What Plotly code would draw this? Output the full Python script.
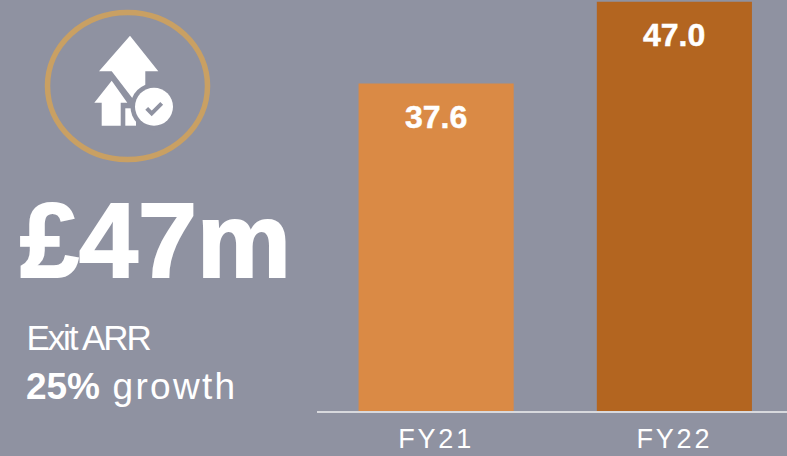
import plotly.graph_objects as go

categories = ["FY21", "FY22"]
values = [37.6, 47.0]
labels = ["37.6", "47.0"]
bar_colors = ["#DA8A45", "#B36520"]
headline = "£47m"
caption = "Exit ARR"
growth = "<b>25%</b> growth"

W, H = 787, 456
BG = "#8F92A1"
ML, MB = 317, 45
PW, PH = W - ML, H - MB
FONT = "Liberation Sans"


def px(x):
    return (x - ML) / PW


def py(y):
    return 1 - y / PH


def path(pts):
    return "M" + " L".join(f"{px(x):.5f},{py(y):.5f}" for x, y in pts) + " Z"


def circle(cx, cy, rx, ry=None, **kw):
    ry = ry if ry is not None else rx
    return dict(type="circle", xref="paper", yref="paper", x0=px(cx - rx), x1=px(cx + rx),
                y0=py(cy + ry), y1=py(cy - ry), **kw)


WHITE = dict(fillcolor="white", line=dict(width=0))
big_arrow = [(130, 35.7), (99, 71.3), (111.7, 71.3), (133, 99), (145.3, 99), (145.3, 71.3), (158.3, 71.3)]
small_arrow = [(111.7, 80.7), (94.3, 102.7), (101.7, 102.7), (101.7, 125.7), (120.7, 125.7), (120.7, 102.7), (127.3, 102.7)]
fragment = [(125.3, 108.3), (136, 108.3), (136, 125.7), (125.3, 125.7)]
check = [(146.7, 108.3), (151.7, 113.3), (161.7, 103.3)]

shapes = [
    circle(127.5, 86, 80, 73.5, line=dict(color="#C9A063", width=5.5), fillcolor="rgba(0,0,0,0)"),
    dict(type="path", path=path(big_arrow), xref="paper", yref="paper", **WHITE),
    dict(type="path", path=path(small_arrow), xref="paper", yref="paper", **WHITE),
    dict(type="path", path=path(fragment), xref="paper", yref="paper", **WHITE),
    circle(154, 106.7, 23.5, fillcolor=BG, line=dict(width=0)),
    circle(154, 106.7, 19, **WHITE),
    dict(type="path", path=path(check).removesuffix(" Z"), xref="paper", yref="paper",
         line=dict(color="#8F92A1", width=4), fillcolor="rgba(0,0,0,0)"),
]


def note(text, x, y, size, family=FONT, anchor="left", **kw):
    return dict(text=text, xref="paper", yref="paper", x=px(x), y=py(y), xanchor=anchor, yanchor="middle",
                showarrow=False, font=dict(family=family, size=size, color="white"), **kw)


annotations = [
    note(f"<b>{headline}</b>", 155, 240, 106, anchor="center"),
    note(caption, 16, 337, 35),
    note(growth, 32, 386, 37),
]
for c, v, t in zip(categories, values, labels):
    annotations.append(dict(text=f"<b>{t}</b>", x=c, y=v, xref="x", yref="y", yanchor="middle",
                            yshift=-33, showarrow=False,
                            font=dict(family=FONT, size=32, color="white")))

fig = go.Figure(go.Bar(x=categories, y=values, marker=dict(color=bar_colors, line=dict(width=0)),
                       width=0.651, hoverinfo="skip"))
fig.update_layout(
    width=W, height=H, autosize=False, margin=dict(l=ML, r=0, t=0, b=MB, pad=0),
    paper_bgcolor=BG, plot_bgcolor=BG, showlegend=False, shapes=shapes, annotations=annotations,
    font=dict(family=FONT, color="white"),
)
fig.update_xaxes(type="category", range=[-0.5, 1.4727], showline=True, linecolor="#D8D9DD", linewidth=2,
                 ticks="", showgrid=False, ticklabelstandoff=3,
                 tickfont=dict(family=FONT, size=27, color="white"))
fig.update_yaxes(range=[0, 47.19], visible=False, showgrid=False, zeroline=False)

post = """
document.body.style.margin = '0';
document.body.style.overflow = 'hidden';
document.body.style.background = '#8F92A1';
var sp = {'Exit ARR': '-2.1px', 'FY21': '2.8px', 'FY22': '2.8px', '25%': '0px'};
var heavy = {'\\u00a347m': '2px', '37.6': '0.5px', '47.0': '0.5px'};
document.querySelectorAll('svg text').forEach(function (t) {
  if (t.textContent.indexOf('growth') >= 0) t.style.letterSpacing = '2.3px';
});
document.querySelectorAll('svg text, svg tspan').forEach(function (t) {
  var s = t.textContent.trim();
  if (sp[s]) t.style.letterSpacing = sp[s];
  if (heavy[s]) { t.style.stroke = 'white'; t.style.strokeWidth = heavy[s]; }
});
"""
fig.write_html("out.html", post_script=post, config=dict(displayModeBar=False))
